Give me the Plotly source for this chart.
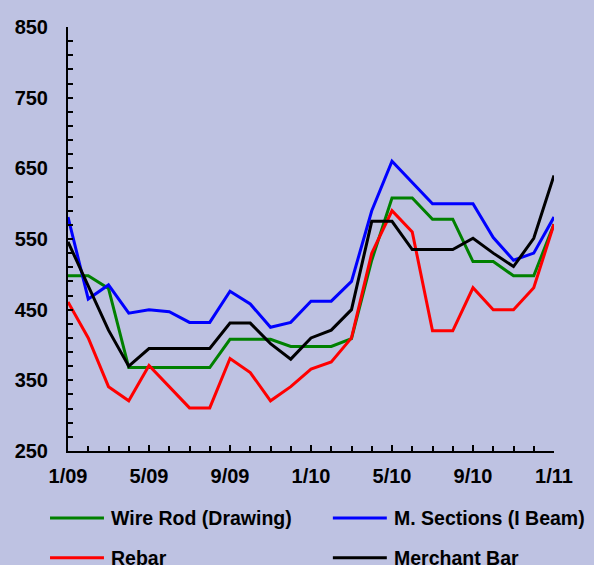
import plotly.graph_objects as go

months = list(range(25))
tick_vals = [0, 4, 8, 12, 16, 20, 24]
tick_text = ["1/09", "5/09", "9/09", "1/10", "5/10", "9/10", "1/11"]

wire_rod = [498, 498, 480, 368, 368, 368, 368, 368, 408, 408, 408, 398, 398, 398,
            409, 520, 608, 608, 578, 578, 518, 518, 498, 498, 571]
m_sections = [581, 465, 485, 445, 450, 447, 432, 432, 476, 458, 425, 432, 462, 462,
              490, 590, 660, 630, 600, 600, 600, 552, 520, 530, 581]
rebar = [461, 410, 341, 321, 371, 341, 311, 311, 381, 361, 321, 341, 366, 376,
         410, 530, 590, 560, 420, 420, 481, 450, 450, 481, 571]
merchant_bar = [546, 483, 421, 370, 395, 395, 395, 395, 431, 431, 402, 380, 410, 421,
                450, 575, 575, 535, 535, 535, 551, 530, 511, 551, 640]

series = [
    ("Wire Rod (Drawing)", wire_rod, "#008000"),
    ("M. Sections (I Beam)", m_sections, "#0000FF"),
    ("Rebar", rebar, "#FF0000"),
    ("Merchant Bar", merchant_bar, "#000000"),
]

BG = "#BEC2E2"
FONT = "Arial, Liberation Sans, sans-serif"

fig = go.Figure()
for name, vals, col in series:
    fig.add_trace(go.Scatter(x=months, y=vals, mode="lines", name=name,
                             line=dict(color=col, width=3), showlegend=False))

# manual legend (2 columns x 2 rows)
legend_pos = [(-0.037, 0.074, 0.084, -0.158),
              (0.545, 0.656, 0.667, -0.158),
              (-0.037, 0.074, 0.084, -0.252),
              (0.545, 0.656, 0.667, -0.252)]
for (name, vals, col), (x0, x1, xt, yy) in zip(series, legend_pos):
    fig.add_shape(type="line", xref="paper", yref="paper", x0=x0, x1=x1, y0=yy, y1=yy,
                  line=dict(color=col, width=3))
    fig.add_annotation(xref="paper", yref="paper", x=xt, y=yy, text="<b>" + name + "</b>",
                       showarrow=False, xanchor="left", yanchor="middle",
                       font=dict(family=FONT, size=19.5, color="black"))

fig.update_layout(
    width=594, height=565,
    paper_bgcolor=BG, plot_bgcolor=BG,
    margin=dict(l=68, r=40, t=27, b=114),
    font=dict(family=FONT, color="black"),
    showlegend=False,
)
fig.update_xaxes(
    range=[0, 24], tickvals=tick_vals, ticktext=["<b>" + t + "</b>" for t in tick_text],
    tickfont=dict(family=FONT, size=20, color="black"),
    showgrid=False, zeroline=False, showline=True, linecolor="black", linewidth=2,
    ticks="inside", ticklen=6, tickwidth=1.5, tickcolor="black", ticklabelstandoff=6,
    minor=dict(dtick=1, tick0=0, ticks="inside", ticklen=5, tickwidth=1.5, tickcolor="black"),
)
fig.update_yaxes(
    range=[250, 850], tickvals=[250, 350, 450, 550, 650, 750, 850],
    ticktext=["<b>%d</b>" % v for v in [250, 350, 450, 550, 650, 750, 850]],
    tickfont=dict(family=FONT, size=20, color="black"),
    showgrid=False, zeroline=False, showline=True, linecolor="black", linewidth=2,
    ticks="inside", ticklen=5, tickwidth=1.5, tickcolor="black", ticklabelstandoff=14,
    minor=dict(dtick=20, tick0=250, ticks="inside", ticklen=5, tickwidth=1.5, tickcolor="black"),
)

fig.write_html(
    "out.html",
    config={"displayModeBar": False},
    post_script="document.body.style.margin='0';document.body.style.overflow='hidden';"
                "document.body.style.background='" + BG + "';",
)
